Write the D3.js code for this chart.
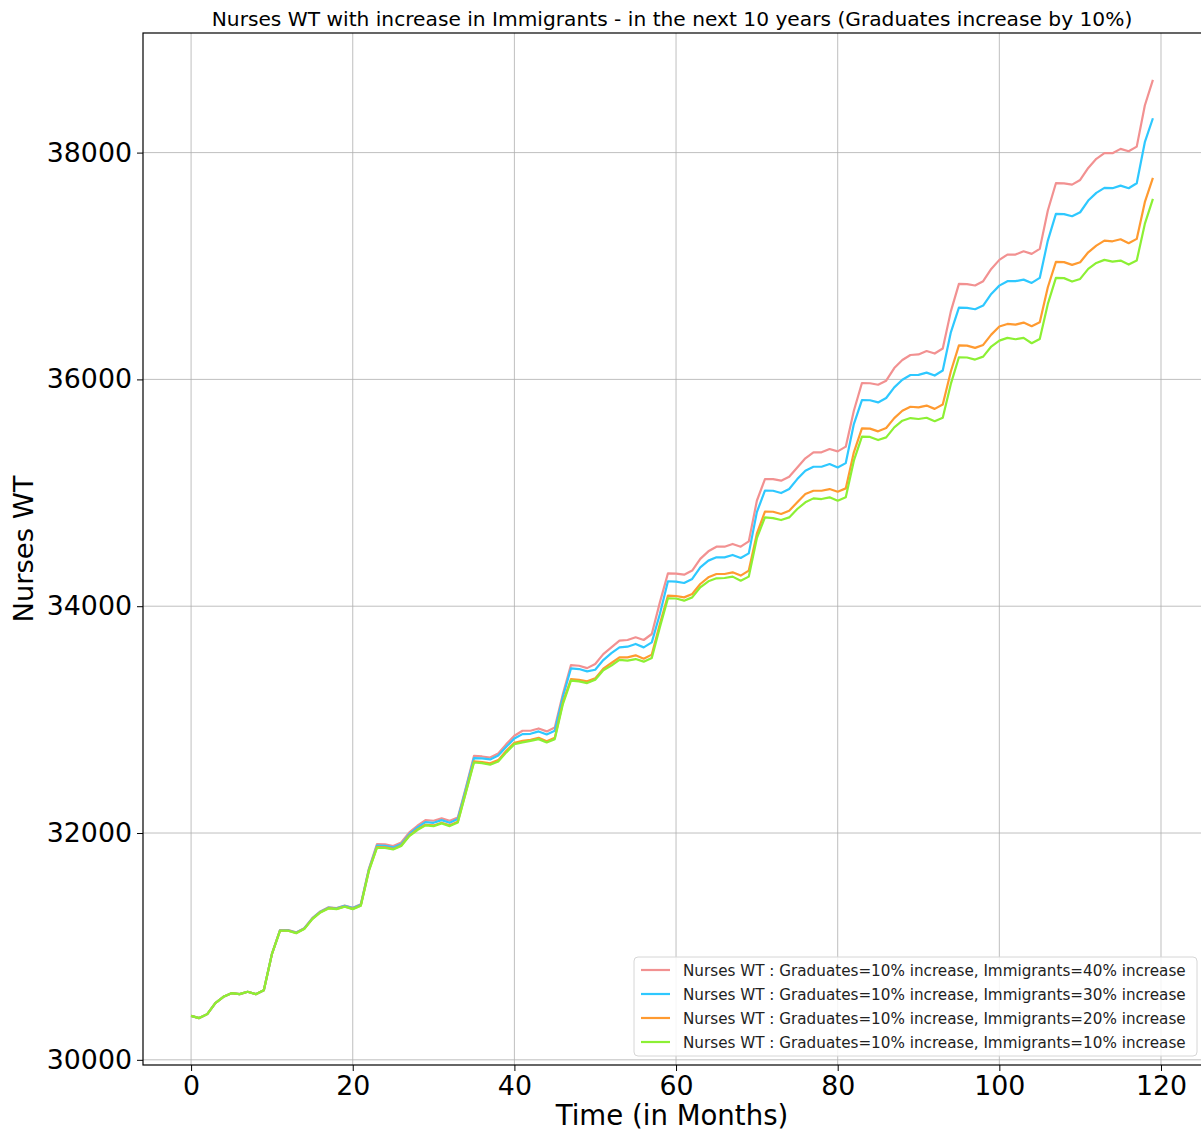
<!DOCTYPE html>
<html>
<head>
<meta charset="utf-8">
<script src="https://cdn.jsdelivr.net/npm/d3@7"></script>
<style>
body { margin: 0; background: #fff; }
svg { display: block; font-family: "DejaVu Sans", sans-serif; }
</style>
</head>
<body>
<div id="chart"></div>
<script>
// months 0..119
var months = d3.range(0, 120);

var immig40 = [
    30388, 30368, 30403, 30500, 30556, 30588, 30579, 30600, 30579, 30614, 30934, 31143,
    31145, 31124, 31160, 31249, 31309, 31345, 31339, 31361, 31341, 31371, 31685, 31902,
    31900, 31885, 31917, 32005, 32064, 32114, 32108, 32129, 32108, 32137, 32402, 32680,
    32675, 32666, 32702, 32784, 32858, 32902, 32902, 32922, 32896, 32931, 33225, 33481,
    33475, 33454, 33490, 33578, 33637, 33696, 33702, 33726, 33702, 33755, 34034, 34290,
    34287, 34278, 34314, 34417, 34484, 34525, 34525, 34549, 34525, 34572, 34930, 35120,
    35121, 35107, 35142, 35224, 35304, 35357, 35357, 35386, 35365, 35407, 35724, 35968,
    35966, 35953, 35989, 36100, 36171, 36215, 36220, 36250, 36228, 36273, 36600, 36842,
    36840, 36828, 36866, 36974, 37054, 37101, 37101, 37130, 37107, 37151, 37489, 37730,
    37728, 37718, 37759, 37865, 37945, 37995, 37995, 38033, 38012, 38053, 38415, 38641
];
var immig30 = [
    30388, 30368, 30403, 30500, 30556, 30588, 30579, 30600, 30579, 30614, 30933, 31142,
    31143, 31122, 31158, 31247, 31306, 31342, 31336, 31358, 31338, 31367, 31680, 31888,
    31886, 31873, 31902, 31990, 32049, 32096, 32090, 32114, 32090, 32123, 32390, 32661,
    32658, 32649, 32684, 32760, 32834, 32872, 32875, 32896, 32869, 32902, 33201, 33451,
    33446, 33425, 33440, 33525, 33587, 33637, 33643, 33667, 33637, 33681, 33931, 34220,
    34217, 34205, 34240, 34343, 34402, 34431, 34431, 34452, 34425, 34466, 34830, 35019,
    35018, 34998, 35033, 35121, 35195, 35230, 35230, 35254, 35224, 35262, 35606, 35818,
    35816, 35797, 35836, 35930, 35997, 36039, 36040, 36060, 36034, 36078, 36415, 36633,
    36631, 36619, 36651, 36754, 36827, 36866, 36866, 36880, 36851, 36895, 37224, 37460,
    37458, 37439, 37474, 37577, 37645, 37689, 37686, 37709, 37686, 37730, 38092, 38303
];
var immig20 = [
    30388, 30368, 30403, 30500, 30556, 30588, 30579, 30600, 30579, 30614, 30932, 31139,
    31139, 31118, 31155, 31243, 31302, 31337, 31331, 31352, 31331, 31360, 31670, 31875,
    31873, 31860, 31890, 31978, 32032, 32073, 32067, 32091, 32068, 32100, 32365, 32631,
    32625, 32614, 32643, 32725, 32796, 32813, 32822, 32840, 32810, 32840, 33152, 33357,
    33351, 33337, 33364, 33450, 33499, 33549, 33549, 33567, 33537, 33573, 33843, 34093,
    34090, 34078, 34108, 34196, 34255, 34284, 34284, 34299, 34270, 34314, 34640, 34834,
    34833, 34813, 34842, 34916, 34989, 35018, 35018, 35033, 35010, 35039, 35357, 35568,
    35566, 35542, 35571, 35659, 35724, 35759, 35754, 35769, 35740, 35779, 36070, 36300,
    36298, 36278, 36304, 36395, 36466, 36489, 36483, 36501, 36469, 36504, 36813, 37036,
    37034, 37010, 37033, 37121, 37180, 37224, 37218, 37236, 37201, 37239, 37563, 37777
];
var immig10 = [
    30388, 30368, 30403, 30500, 30556, 30588, 30579, 30600, 30579, 30614, 30932, 31138,
    31138, 31117, 31153, 31241, 31300, 31335, 31329, 31350, 31329, 31358, 31667, 31870,
    31868, 31855, 31885, 31973, 32026, 32067, 32061, 32085, 32061, 32093, 32358, 32622,
    32616, 32602, 32631, 32711, 32784, 32799, 32813, 32828, 32799, 32828, 33137, 33343,
    33337, 33322, 33352, 33435, 33476, 33526, 33520, 33534, 33511, 33543, 33814, 34070,
    34068, 34049, 34078, 34167, 34220, 34246, 34249, 34261, 34225, 34261, 34600, 34784,
    34777, 34760, 34783, 34857, 34916, 34951, 34945, 34960, 34930, 34960, 35283, 35495,
    35493, 35465, 35489, 35577, 35636, 35659, 35651, 35662, 35631, 35662, 35960, 36195,
    36193, 36175, 36201, 36290, 36342, 36366, 36354, 36366, 36319, 36357, 36666, 36895,
    36893, 36863, 36886, 36975, 37027, 37054, 37039, 37048, 37013, 37048, 37371, 37592
];

var seriesLabels = [
    "Nurses WT : Graduates=10% increase, Immigrants=40% increase",
    "Nurses WT : Graduates=10% increase, Immigrants=30% increase",
    "Nurses WT : Graduates=10% increase, Immigrants=20% increase",
    "Nurses WT : Graduates=10% increase, Immigrants=10% increase"
];
var seriesColors = ["#f29191", "#2ec8ff", "#ff9a30", "#8cf034"];
var xTicks = [0, 20, 40, 60, 80, 100, 120];
var yTicks = [30000, 32000, 34000, 36000, 38000];

var titleText = "Nurses WT with increase in Immigrants - in the next 10 years (Graduates increase by 10%)";
var xLabel = "Time (in Months)";
var yLabel = "Nurses WT";

var W = 1201, H = 1131;
var margin = {top: 33, right: 0, bottom: 66, left: 143};
var width = W - margin.left - margin.right,
    height = H - margin.top - margin.bottom;

var allSeries = [immig40, immig30, immig20, immig10];

// matplotlib-like 5% padding
var xExt = d3.extent(months), xPad = (xExt[1] - xExt[0]) * 0.05;
var yExt = d3.extent(d3.merge(allSeries)), yPad = (yExt[1] - yExt[0]) * 0.05;

var x = d3.scaleLinear().domain([xExt[0] - xPad, xExt[1] + xPad]).range([0, width]);
var y = d3.scaleLinear().domain([yExt[0] - yPad, yExt[1] + yPad]).range([height, 0]);

var svg = d3.select("#chart").append("svg")
    .attr("width", W)
    .attr("height", H);

var g = svg.append("g").attr("transform", "translate(" + margin.left + "," + margin.top + ")");

// grid
g.append("g").selectAll("line.vg")
    .data(xTicks).enter().append("line")
    .attr("x1", function(d) { return x(d); })
    .attr("x2", function(d) { return x(d); })
    .attr("y1", 0).attr("y2", height)
    .attr("stroke", "#b0b0b0").attr("stroke-width", 1).attr("opacity", 0.8);
g.append("g").selectAll("line.hg")
    .data(yTicks).enter().append("line")
    .attr("y1", function(d) { return y(d); })
    .attr("y2", function(d) { return y(d); })
    .attr("x1", 0).attr("x2", width)
    .attr("stroke", "#b0b0b0").attr("stroke-width", 1).attr("opacity", 0.8);

// lines
var line = d3.line()
    .x(function(d, i) { return x(months[i]); })
    .y(function(d) { return y(d); });

g.selectAll("path.series")
    .data(allSeries)
    .enter()
    .append("path")
    .attr("class", "series")
    .attr("d", line)
    .attr("fill", "none")
    .attr("stroke", function(d, i) { return seriesColors[i]; })
    .attr("stroke-width", 2.2)
    .attr("stroke-linejoin", "round");

// axes
var xAxis = g.append("g")
    .attr("transform", "translate(0," + height + ")")
    .call(d3.axisBottom(x).tickValues(xTicks).tickSize(6).tickPadding(5));
var yAxis = g.append("g")
    .call(d3.axisLeft(y).tickValues(yTicks).tickFormat(d3.format("d")).tickSize(6).tickPadding(5));

[xAxis, yAxis].forEach(function(a) {
    a.selectAll("text").attr("font-size", 26.8).attr("font-family", "DejaVu Sans").attr("fill", "#000");
    a.selectAll("line").attr("stroke", "#000");
    a.select(".domain").remove();
});

// spines
g.append("rect")
    .attr("x", 0).attr("y", 0)
    .attr("width", width + 1).attr("height", height)
    .attr("fill", "none").attr("stroke", "#000").attr("stroke-width", 1.2);

// title and labels
svg.append("text")
    .attr("x", margin.left + width / 2)
    .attr("y", 26)
    .attr("text-anchor", "middle")
    .attr("font-size", 20.2)
    .text(titleText);

svg.append("text")
    .attr("x", margin.left + width / 2)
    .attr("y", 1125)
    .attr("text-anchor", "middle")
    .attr("font-size", 27.6)
    .text(xLabel);

svg.append("text")
    .attr("transform", "translate(33," + (margin.top + height / 2) + ") rotate(-90)")
    .attr("text-anchor", "middle")
    .attr("font-size", 27.4)
    .text(yLabel);

// legend
var lg = svg.append("g").attr("transform", "translate(634,957)");
lg.append("rect")
    .attr("width", 563).attr("height", 99)
    .attr("rx", 4)
    .attr("fill", "#fff").attr("fill-opacity", 0.85)
    .attr("stroke", "#d6d6d6");
var rows = lg.selectAll("g.row").data(seriesLabels).enter().append("g")
    .attr("transform", function(d, i) { return "translate(0," + (13 + i * 24) + ")"; });
rows.append("line")
    .attr("x1", 7).attr("x2", 36)
    .attr("stroke", function(d, i) { return seriesColors[i]; })
    .attr("stroke-width", 2.2);
rows.append("text")
    .attr("x", 49).attr("y", 5.5)
    .attr("font-size", 15.2)
    .attr("fill", "#222")
    .text(function(d) { return d; });
</script>
</body>
</html>
